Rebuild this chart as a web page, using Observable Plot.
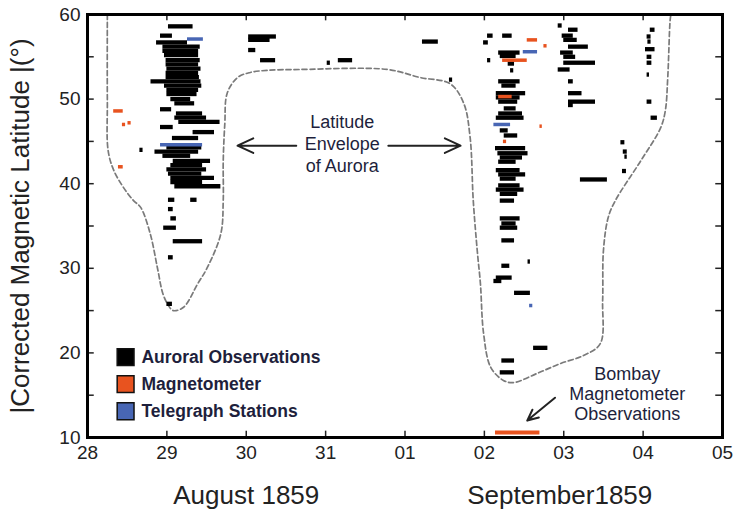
<!DOCTYPE html>
<html>
<head>
<meta charset="utf-8">
<script src="https://cdn.jsdelivr.net/npm/d3@7"></script>
<script src="https://cdn.jsdelivr.net/npm/@observablehq/plot@0.6"></script>
<style>
  html, body { margin: 0; padding: 0; background: #fff; }
</style>
</head>
<body>
<div id="chart"></div>
<script>
// x = days since 28 August 1859 00:00, y = |corrected magnetic latitude| (deg)
const dayTicks = [0, 1, 2, 3, 4, 5, 6, 7, 8];
const dayLabels = ["28", "29", "30", "31", "01", "02", "03", "04", "05"];
const latTicks = [10, 20, 30, 40, 50, 60];
const latMinorTicks = [15, 25, 35, 45, 55];
const monthLabels = [["August 1859", 2.0], ["September1859", 5.95]];
const legendLabels = ["Auroral Observations", "Magnetometer", "Telegraph Stations"];
const seriesColors = ["#000000", "#e8531f", "#4866b4"];

// [start day, end day, latitude]
const auroral = [
  [1.02,1.33,58.6],[0.92,1.07,57.5],[0.87,1.26,56.7],[0.95,1.42,56.2],[0.95,1.40,55.7],
  [0.97,1.40,55.2],[0.99,1.42,54.6],[0.99,1.40,54.1],[1.00,1.43,53.6],[0.99,1.40,53.1],
  [0.99,1.41,52.6],[0.80,1.43,52.1],[0.97,1.44,51.6],[1.00,1.40,51.1],[1.00,1.38,50.6],
  [1.05,1.30,50.0],[1.10,1.35,49.5],[0.92,1.06,48.8],[1.12,1.45,48.3],[1.10,1.50,47.8],
  [1.15,1.67,47.3],[0.92,1.08,46.7],[1.33,1.60,46.1],[1.07,1.40,45.4],[1.00,1.44,44.3],
  [0.85,1.40,43.8],[0.95,1.30,43.3],[1.08,1.55,42.7],[1.05,1.45,42.2],[1.00,1.50,41.7],
  [1.02,1.44,41.2],[1.05,1.60,40.7],[1.05,1.45,40.2],[1.10,1.68,39.7],[1.02,1.10,38.1],
  [1.30,1.38,38.1],[1.02,1.08,37.0],[1.05,1.12,35.9],[0.96,1.12,34.8],[1.08,1.45,33.2],
  [1.02,1.08,31.3],[1.00,1.07,25.8],[0.66,0.70,44.0],
  [2.03,2.38,57.4],[2.03,2.30,57.0],[2.03,2.12,55.8],[2.18,2.37,54.6],[3.16,3.34,54.6],
  [3.02,3.06,54.3],[4.22,4.42,56.8],[4.56,4.60,52.3],
  [5.04,5.11,57.5],[5.23,5.35,57.5],[4.99,5.05,56.7],[5.18,5.45,55.5],[5.20,5.40,55.1],
  [5.04,5.08,54.6],[5.30,5.38,54.2],[5.33,5.37,53.4],[5.18,5.45,52.1],[5.22,5.40,51.6],
  [5.15,5.52,50.7],[5.15,5.45,50.2],[5.18,5.42,49.7],[5.25,5.40,48.9],[5.18,5.48,48.3],
  [5.15,5.50,47.8],[5.20,5.30,46.3],[5.25,5.42,45.7],[5.14,5.52,44.2],[5.17,5.55,43.6],
  [5.20,5.48,43.1],[5.18,5.40,42.6],[5.15,5.45,41.6],[5.18,5.52,41.1],[5.20,5.40,40.6],
  [5.18,5.45,39.8],[5.15,5.50,39.3],[5.20,5.42,38.8],[5.20,5.38,38.0],[5.20,5.45,35.9],
  [5.22,5.40,35.3],[5.20,5.42,34.8],[5.22,5.38,33.3],[5.55,5.58,30.8],[5.22,5.32,30.3],
  [5.15,5.35,28.9],[5.12,5.22,28.5],[5.38,5.58,27.1],[5.62,5.80,20.6],[5.22,5.38,19.1],
  [5.20,5.38,17.7],
  [5.93,5.98,58.7],[6.06,6.18,58.2],[5.98,6.12,57.5],[6.00,6.17,57.0],[6.06,6.31,56.2],
  [5.96,6.12,55.5],[6.00,6.15,55.0],[6.00,6.40,54.3],[5.93,6.08,53.5],[6.06,6.12,52.1],
  [6.06,6.23,50.7],[6.06,6.40,49.7],[6.06,6.12,49.3],[6.21,6.55,40.5],
  [7.09,7.15,58.2],[7.05,7.10,57.4],[7.06,7.10,56.8],[7.03,7.15,55.9],[7.05,7.11,55.0],
  [7.05,7.11,54.3],[7.05,7.08,52.9],[7.05,7.11,49.7],[7.10,7.18,47.8],[6.72,6.77,44.9],
  [6.75,6.80,43.8],[6.77,6.80,43.2],[6.74,6.79,41.5]
];
const magnetometer = [
  [0.33,0.45,48.6],[0.44,0.48,47.0],[0.51,0.55,47.2],[0.39,0.45,42.0],
  [5.54,5.67,57.0],[5.75,5.79,56.3],[5.23,5.54,54.6],[5.18,5.35,50.3],[5.70,5.73,46.8],
  [5.24,5.28,45.0]
];
const bombay = [[5.14,5.70,10.6]];
const telegraph = [
  [1.26,1.46,57.1],[0.92,1.45,44.6],
  [5.49,5.67,55.6],[5.12,5.33,47.0],[5.57,5.61,25.6]
];
// [day, latitude] of the dashed latitude envelope
const envelope = [
  [0.25,60],[0.25,49.8],[0.26,43.9],[0.33,41.6],[0.45,39.6],[0.58,38.0],[0.67,37.2],
  [0.79,34.1],[0.88,30.1],[0.95,27.0],[1.02,25.6],[1.08,25.0],[1.21,25.4],[1.39,28.2],
  [1.51,30.1],[1.68,34.1],[1.71,38.0],[1.71,42.7],[1.73,47.1],[1.76,50.7],[1.89,52.55],
  [2.05,53.15],[2.27,53.4],[2.68,53.5],[3.78,53.5],[4.19,52.55],[4.57,51.8],[4.74,49.5],
  [4.82,45.5],[4.86,38.0],[4.91,32.1],[4.95,28.2],[4.99,22.3],[5.08,18.3],[5.24,16.75],
  [5.37,16.5],[5.67,17.6],[5.96,18.75],[6.25,19.7],[6.46,21.1],[6.49,26.2],[6.50,32.1],
  [6.56,36.0],[6.65,38.0],[6.97,42.7],[7.22,46.6],[7.28,48.65],[7.31,52.5],[7.34,59.3],[7.35,60]
];
// annotation arrows [x1, y1, x2, y2]
const envelopeArrows = [[2.63,44.5,1.89,44.5],[3.79,44.5,4.70,44.5]];
const bombayArrow = [[5.89,14.7,5.54,12.0]];

const textColor = "#1e1f3c";
const legendY = (i) => 19.5 - i * 3.2;

const chart = Plot.plot({
  width: 734,
  height: 512,
  marginLeft: 87,
  marginRight: 12,
  marginTop: 14,
  marginBottom: 75,
  style: {fontFamily: "'Liberation Sans', Arial, sans-serif", fontSize: "19px", color: "#222", background: "#fff"},
  x: {domain: [0, 8], ticks: dayTicks, tickFormat: (d) => dayLabels[d], tickSize: 0, tickPadding: 8, label: null},
  y: {domain: [10, 60], ticks: latTicks, tickSize: 0, tickPadding: 7, label: null},
  marks: [
    // inward ticks
    Plot.ruleX(dayTicks, {x: (d) => d, y1: 10, y2: 10.75, strokeWidth: 1.5}),
    Plot.ruleX(dayTicks, {x: (d) => d, y1: 59.25, y2: 60, strokeWidth: 1.5}),
    Plot.ruleY(latTicks.concat(latMinorTicks), {y: (d) => d, x1: 0, x2: 0.085, strokeWidth: 1.5}),
    Plot.ruleY(latTicks.concat(latMinorTicks), {y: (d) => d, x1: 7.915, x2: 8, strokeWidth: 1.5}),
    // envelope
    Plot.line(envelope, {x: (d) => d[0], y: (d) => d[1], curve: "catmull-rom", stroke: "#7a7a7a", strokeWidth: 1.7, strokeDasharray: "5,3"}),
    // observations
    Plot.ruleY(auroral, {x1: (d) => d[0], x2: (d) => d[1], y: (d) => d[2], stroke: seriesColors[0], strokeWidth: 4.3}),
    Plot.ruleY(magnetometer, {x1: (d) => d[0], x2: (d) => d[1], y: (d) => d[2], stroke: seriesColors[1], strokeWidth: 3.5}),
    Plot.ruleY(telegraph, {x1: (d) => d[0], x2: (d) => d[1], y: (d) => d[2], stroke: seriesColors[2], strokeWidth: 3.5}),
    Plot.ruleY(bombay, {x1: (d) => d[0], x2: (d) => d[1], y: (d) => d[2], stroke: seriesColors[1], strokeWidth: 4}),
    // annotations
    Plot.arrow(envelopeArrows, {x1: (d) => d[0], y1: (d) => d[1], x2: (d) => d[2], y2: (d) => d[3], stroke: "#222", strokeWidth: 2, headLength: 13, headAngle: 50}),
    Plot.text(["Latitude\nEnvelope\nof Aurora"], {x: 3.21, y: 44.8, fontSize: 18, lineHeight: 1.2, fill: textColor}),
    Plot.arrow(bombayArrow, {x1: (d) => d[0], y1: (d) => d[1], x2: (d) => d[2], y2: (d) => d[3], stroke: "#222", strokeWidth: 2, headLength: 11, headAngle: 50}),
    Plot.text(["Bombay\nMagnetometer\nObservations"], {x: 6.8, y: 15.2, fontSize: 18, lineHeight: 1.12, fill: textColor}),
    // legend
    Plot.dot(legendLabels, {x: 0.48, y: (d, i) => legendY(i), symbol: "square", r: 9.5, fill: (d, i) => seriesColors[i], stroke: "#111", strokeWidth: 1.5}),
    Plot.text(legendLabels, {x: 0.68, y: (d, i) => legendY(i), text: (d) => d, textAnchor: "start", fontSize: 17.5, fontWeight: "bold", fill: textColor}),
    // month labels and y title
    Plot.text(monthLabels, {x: (d) => d[1], y: 10, text: (d) => d[0], dy: 58, fontSize: 26, fill: "#222"}),
    Plot.text(["|Corrected Magnetic Latitude |(°)"], {frameAnchor: "left", textAnchor: "middle", dx: -67, rotate: -90, fontSize: 26, fill: "#222"}),
    Plot.frame({stroke: "#000", strokeWidth: 3})
  ]
});
document.getElementById("chart").appendChild(chart);
</script>
</body>
</html>
